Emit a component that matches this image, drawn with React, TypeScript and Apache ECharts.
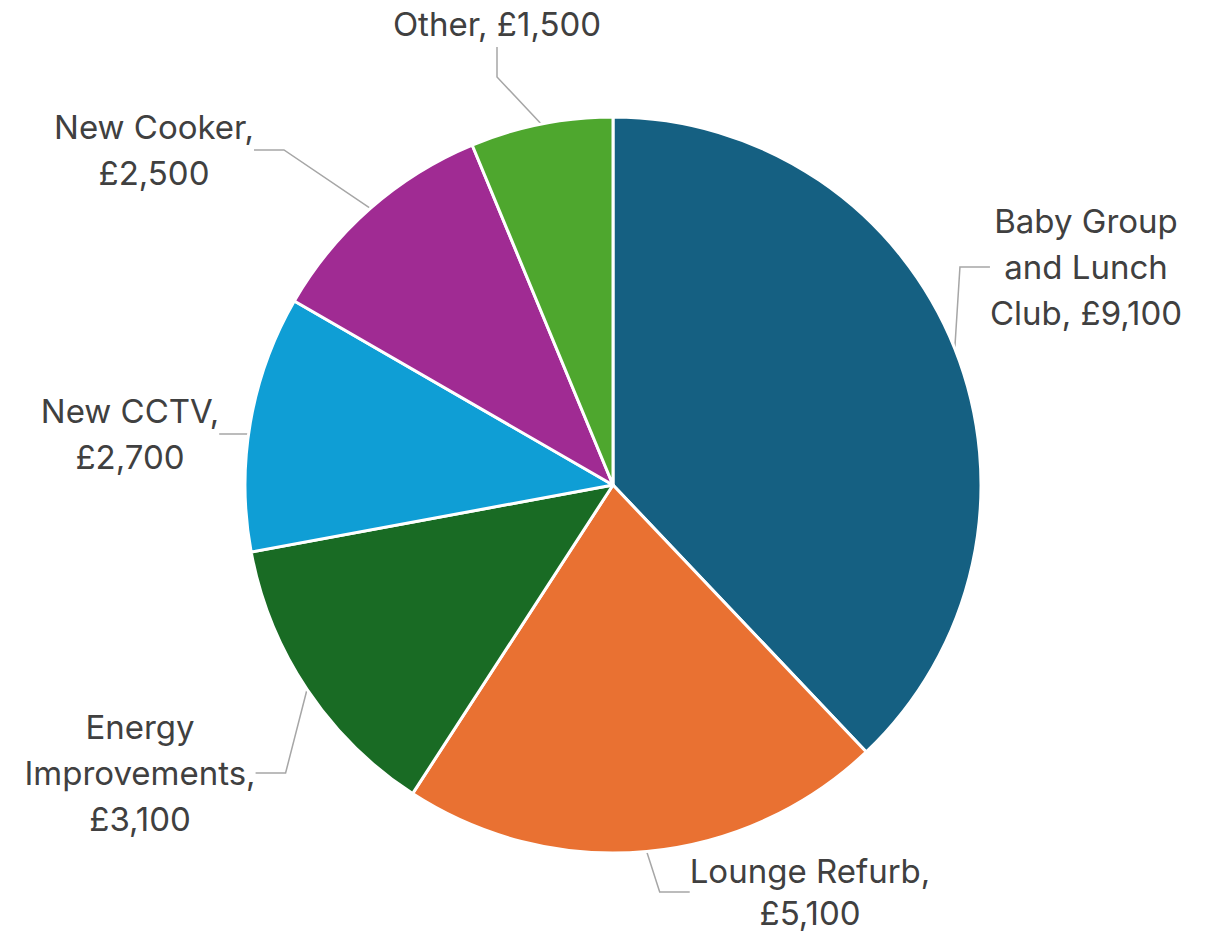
import React, { useEffect, useRef } from "react";
import * as echarts from "echarts";

const categories = [
  "Baby Group\nand Lunch\nClub",
  "Lounge Refurb",
  "Energy\nImprovements",
  "New CCTV",
  "New Cooker",
  "Other",
];
const values = [9100, 5100, 3100, 2700, 2500, 1500];
const colors = ["#156082", "#E97132", "#196B24", "#0F9ED5", "#A02B93", "#4EA72E"];
const labelTexts = [
  "Baby Group\nand Lunch\nClub, £9,100",
  "Lounge Refurb,\n£5,100",
  "Energy\nImprovements,\n£3,100",
  "New CCTV,\n£2,700",
  "New Cooker,\n£2,500",
  "Other, £1,500",
];
// label block centres (layout only)
const labelPos = [
  [1086, 267],
  [810, 892],
  [140, 773],
  [130, 434],
  [154, 150],
  [497, 24],
];
const labelLineHeights = [46, 42, 46, 46, 46, 46];

export default function App() {
  const ref = useRef<HTMLDivElement>(null);
  useEffect(() => {
    document.body.style.margin = "0";
    const chart = echarts.init(ref.current!, null, { renderer: "svg" });
    chart.setOption({
      animation: false,
      backgroundColor: "#ffffff",
      series: [
        {
          type: "pie",
          center: [613, 485],
          radius: [0, 368],
          startAngle: 90,
          clockwise: true,
          data: categories.map((c, i) => ({
            name: c,
            value: values[i],
            itemStyle: { color: colors[i] },
            label: { formatter: labelTexts[i], lineHeight: labelLineHeights[i] },
          })),
          itemStyle: { borderColor: "#ffffff", borderWidth: 3 },
          label: {
            show: true,
            position: "outside",
            color: "#404040",
            fontSize: 33,
            lineHeight: 46,
            fontFamily: "Inter, 'Noto Sans', sans-serif",
            align: "center",
          },
          labelLine: {
            show: true,
            lineStyle: { color: "#A6A6A6", width: 1.5 },
          },
          labelLayout: (p: any) => {
            const pos = labelPos[p.dataIndex];
            return {
              x: pos[0],
              y: pos[1],
              align: "center",
              verticalAlign: "middle",
            };
          },
          emphasis: { disabled: true },
        },
      ],
    });
    return () => chart.dispose();
  }, []);
  return <div ref={ref} style={{ width: 1206, height: 935 }} />;
}
